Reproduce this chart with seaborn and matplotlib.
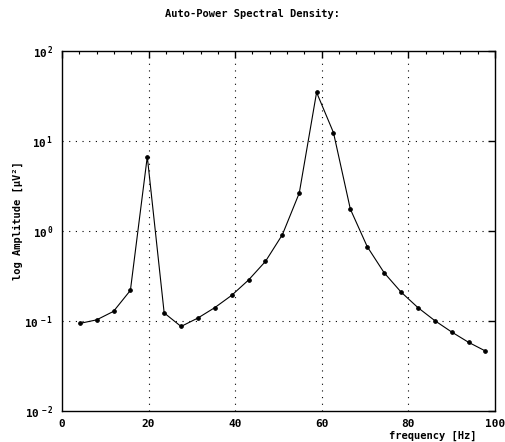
import numpy as np
import pandas as pd
import matplotlib
matplotlib.use("Agg")
import matplotlib.pyplot as plt
import seaborn as sns
from matplotlib.ticker import FixedLocator, FuncFormatter, MultipleLocator, NullLocator

# Data
freq = [4.1, 8.0, 11.9, 15.8, 19.7, 23.6, 27.5, 31.4, 35.3, 39.2, 43.1, 47.0,
        50.9, 54.8, 58.8, 62.7, 66.6, 70.5, 74.4, 78.3, 82.2, 86.1, 90.0, 93.9, 97.8]
power = [0.094, 0.103, 0.128, 0.219, 6.7, 0.123, 0.087, 0.108, 0.141, 0.193, 0.286, 0.46,
         0.91, 2.64, 34.7, 12.4, 1.75, 0.67, 0.344, 0.21, 0.141, 0.101, 0.0755, 0.058, 0.0464]
df = pd.DataFrame({"freq": freq, "power": power})

sns.set_style("white")
plt.rcParams["font.family"] = ["DejaVu Sans Mono"]
plt.rcParams["font.weight"] = "bold"
plt.rcParams["text.color"] = "black"
plt.rcParams["mathtext.fontset"] = "custom"
plt.rcParams["mathtext.rm"] = "DejaVu Sans Mono:bold"
plt.rcParams["mathtext.default"] = "rm"

fig = plt.figure(figsize=(5.06, 4.42), dpi=100)
ax = fig.add_axes([0.1225, 0.0701, 0.8557, 0.8145])

sns.lineplot(data=df, x="freq", y="power", ax=ax, color="black", linewidth=0.8,
             marker="o", markersize=2.6, markeredgecolor="black")

ax.set_yscale("log")
ax.set_xlim(0, 100)
ax.set_ylim(1e-2, 1e2)

ax.xaxis.set_major_locator(MultipleLocator(20))
ax.xaxis.set_minor_locator(MultipleLocator(4))
ax.yaxis.set_major_locator(FixedLocator([1e-2, 1e-1, 1e0, 1e1, 1e2]))
ax.yaxis.set_minor_locator(NullLocator())
ax.yaxis.set_major_formatter(FuncFormatter(lambda v, p: r"$10^{\,%d}$" % round(np.log10(v))))

ax.tick_params(which="both", direction="in", top=True, right=True, labelsize=8,
               colors="black", pad=6)
ax.tick_params(which="major", length=5, width=1)
ax.tick_params(which="minor", length=2.5, width=0.8)

for gx in [20, 40, 60, 80]:
    ax.axvline(gx, color="black", linestyle=(0, (1, 5)), linewidth=0.8, zorder=0)
for gy in [1e-1, 1e0, 1e1]:
    ax.axhline(gy, color="black", linestyle=(0, (1, 5)), linewidth=0.8, zorder=0)

for s in ax.spines.values():
    s.set_color("black")
    s.set_linewidth(1)

ax.set_xlabel("")
ax.set_ylabel("")
fig.text(0.5, 0.968, "Auto-Power Spectral Density:", ha="center", va="center",
         fontsize=7.5, fontweight="bold")
fig.text(0.036, 0.50, "log Amplitude [\u00b5V\u00b2]", ha="center", va="center",
         rotation=90, fontsize=7.5, fontweight="bold")
fig.text(0.855, 0.014, "frequency [Hz]", ha="center", va="center",
         fontsize=7.5, fontweight="bold")

fig.savefig("out.png", dpi=100, facecolor="white")
